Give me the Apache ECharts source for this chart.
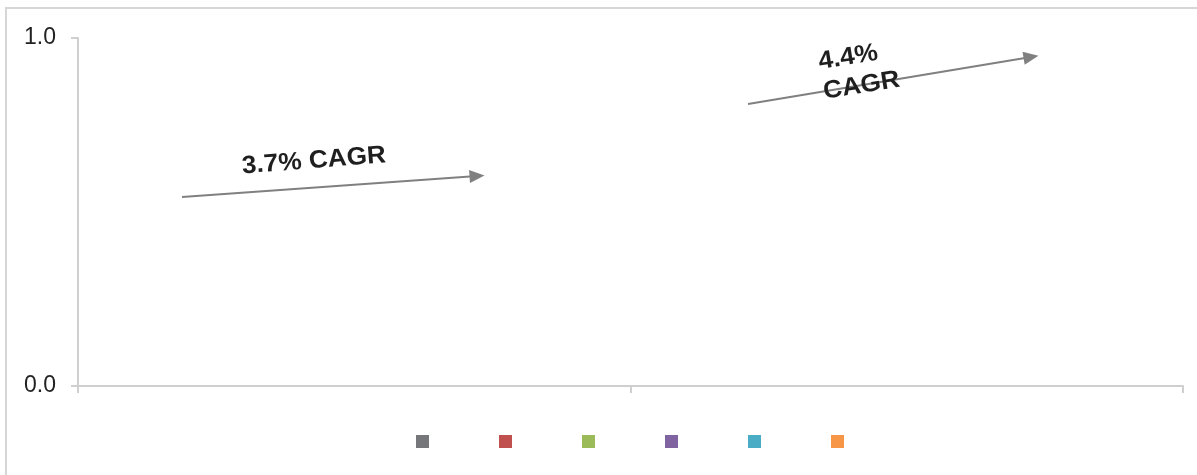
<!DOCTYPE html>
<html>
<head>
<meta charset="utf-8">
<script src="https://cdn.jsdelivr.net/npm/echarts@6/dist/echarts.min.js"></script>
<style>
  html, body { margin: 0; padding: 0; background: #ffffff; }
  #chart { width: 1197px; height: 475px; }
</style>
</head>
<body>
<div id="chart"></div>
<script>
// Two periods on the category axis; no bar values are plotted.
const categories = ['Period 1', 'Period 2'];
const seriesNames = ['Series 1', 'Series 2', 'Series 3', 'Series 4', 'Series 5', 'Series 6'];
const seriesValues = [
  [null, null],
  [null, null],
  [null, null],
  [null, null],
  [null, null],
  [null, null]
];
const seriesColors = ['#76777b', '#c0504d', '#9bbb59', '#8064a2', '#4bacc6', '#f79646'];
const yTicks = [0, 1];

// Growth annotations, in units of a hidden 0..2 x-axis and the value axis.
const cagrLabels = ['3.7% CAGR', '4.4%\nCAGR'];
const cagrArrows = [
  { from: [0.1882, 0.5431], to: [0.7222, 0.6034] },
  { from: [1.2127, 0.8103], to: [1.7249, 0.9454] }
];
const cagrLabelAnchors = [
  { at: [0.4271, 0.6466], angle: 4.5, align: 'center' },
  { at: [1.3448, 0.8879], angle: 9, align: 'left' }
];

const axisGray = '#cfcfcf';
const font = "'Liberation Sans', Arial, sans-serif";

const chart = echarts.init(document.getElementById('chart'), null, { renderer: 'canvas' });

const barSeries = seriesNames.map((name, i) => ({
  name: name,
  type: 'bar',
  data: seriesValues[i],
  itemStyle: { color: seriesColors[i] }
}));

const arrowSeries = {
  name: 'cagr',
  type: 'line',
  xAxisIndex: 1,
  yAxisIndex: 0,
  data: [],
  silent: true,
  markLine: {
    silent: true,
    symbol: ['none', 'triangle'],
    symbolSize: [13, 15],
    label: { show: false },
    lineStyle: { color: '#808080', width: 2, type: 'solid' },
    data: cagrArrows.map(a => [{ coord: a.from }, { coord: a.to }])
  }
};

chart.setOption({
  animation: false,
  backgroundColor: '#ffffff',
  grid: { left: 78, right: 14, top: 38, bottom: 89, containLabel: false },
  legend: {
    data: seriesNames,
    left: 411,
    top: 430,
    icon: 'rect',
    itemWidth: 13,
    itemHeight: 13,
    itemGap: 70,
    formatter: () => '',
    selectedMode: false
  },
  xAxis: [
    {
      type: 'category',
      data: categories,
      boundaryGap: true,
      axisLine: { show: true, lineStyle: { color: axisGray, width: 2 } },
      axisTick: { show: true, length: 7, lineStyle: { color: axisGray, width: 2 } },
      axisLabel: { show: false }
    },
    {
      type: 'value',
      min: 0,
      max: 2,
      show: false
    }
  ],
  yAxis: {
    type: 'value',
    min: yTicks[0],
    max: yTicks[yTicks.length - 1],
    interval: 1,
    axisLine: { show: true, lineStyle: { color: axisGray, width: 2 } },
    axisTick: { show: true, length: 7, lineStyle: { color: axisGray, width: 2 } },
    splitLine: { show: false },
    axisLabel: {
      margin: 22,
      color: '#222222',
      fontSize: 23,
      fontFamily: font,
      formatter: v => v.toFixed(1)
    }
  },
  graphic: [
    {
      type: 'rect',
      id: 'frame',
      shape: { x: 6, y: 8, width: 1220, height: 500 },
      style: { fill: 'none', stroke: '#d6d6d6', lineWidth: 2 },
      silent: true,
      z: -1
    }
  ],
  series: barSeries.concat([arrowSeries])
});

// Place the CAGR captions once the axes exist; the bold caption face is set slightly wide.
const captions = cagrLabels.map((text, i) => {
  const anchor = cagrLabelAnchors[i];
  const p = chart.convertToPixel({ xAxisIndex: 1, yAxisIndex: 0 }, anchor.at);
  return {
    type: 'text',
    id: 'cagr' + i,
    x: p[0],
    y: p[1],
    rotation: anchor.angle * Math.PI / 180,
    scaleX: 1.05,
    scaleY: 1,
    silent: true,
    z: 10,
    style: {
      text: text,
      fill: '#1f1f1f',
      font: "bold 25px " + font,
      lineHeight: 30,
      align: anchor.align,
      verticalAlign: 'middle'
    }
  };
});
chart.setOption({ graphic: captions });
</script>
</body>
</html>
